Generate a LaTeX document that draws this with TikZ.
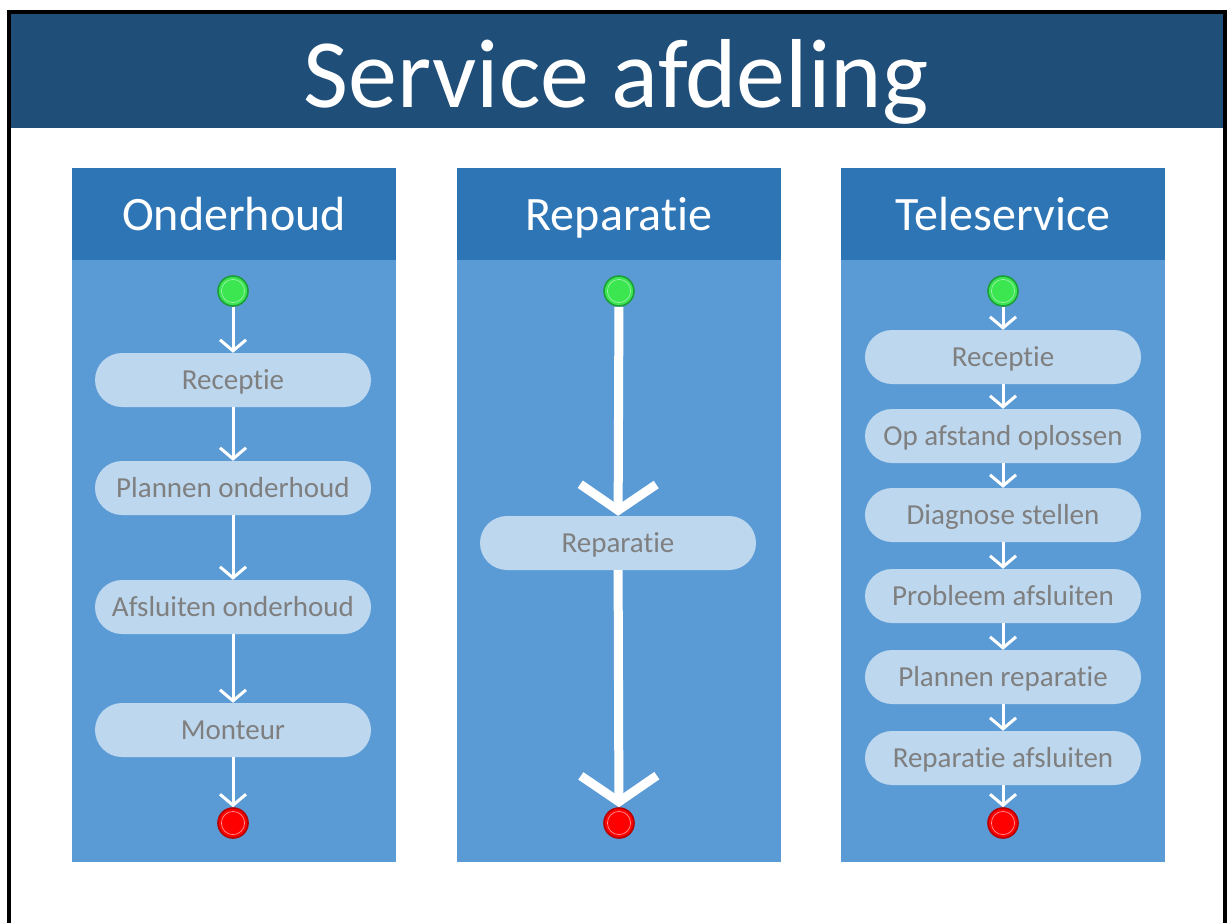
\documentclass[tikz,border=0pt]{standalone}
\usepackage{fontspec}
\setmainfont{Carlito}[Ligatures=NoCommon]
\usetikzlibrary{arrows.meta}
\definecolor{bannerblue}{HTML}{1F4E79}
\definecolor{lanehead}{HTML}{2E75B6}
\definecolor{lanebody}{HTML}{5B9BD5}
\definecolor{stepfill}{HTML}{BDD7EE}
\definecolor{steptext}{HTML}{7F7F7F}
\definecolor{startfill}{HTML}{3BE650}
\definecolor{startrim}{HTML}{1E9E3A}
\definecolor{startring}{HTML}{9AF0A6}
\definecolor{stopfill}{HTML}{FF0000}
\definecolor{stoprim}{HTML}{B80000}
\definecolor{stopring}{HTML}{FF9090}
\tikzset{
  lanebox/.style={fill=lanebody, draw=none},
  lanetitle/.style={fill=lanehead, draw=none},
  lanelabel/.style={text=white, font=\fontsize{48}{48}\selectfont, anchor=base},
  stepbox/.style={fill=stepfill, draw=none, rounded corners=27pt,
    minimum width=276pt, minimum height=54pt, inner sep=0pt,
    text height=24pt, text depth=6pt,
    text=steptext, font=\fontsize{29}{29}\selectfont},
  startdot/.style={circle, minimum size=30pt, inner sep=0pt, fill=startfill,
    draw=startrim, line width=1.6pt,
    path picture={\draw[startring, line width=0.7pt]
      (path picture bounding box.center) circle (11.6pt);}},
  stopdot/.style={circle, minimum size=30pt, inner sep=0pt, fill=stopfill,
    draw=stoprim, line width=1.6pt,
    path picture={\draw[stopring, line width=0.7pt]
      (path picture bounding box.center) circle (11.6pt);}},
  flow/.style={draw=white, line width=3pt,
    -{Straight Barb[length=11pt, width=26pt, line width=3pt]}},
  bigflow/.style={draw=white, line width=9pt,
    -{Straight Barb[length=26pt, width=76pt, line width=9pt]}},
}
\begin{document}
\begin{tikzpicture}[x=1pt, y=-1pt]
\useasboundingbox (0,0) rectangle (1228,922);
\fill[white] (0,0) rectangle (1228,922);

% banner and frame
\fill[bannerblue] (11,14) rectangle (1223,128);
\node[text=white, font=\fontsize{98}{98}\selectfont, anchor=base] (title) at (616,107) {Service afdeling};
\draw[black, line width=4pt] (9,940) -- (9,12) -- (1225,12) -- (1225,940);

% swim lanes
\foreach \lx in {72, 457, 841} {
  \fill[lanebox] (\lx,168) rectangle ++(324,694);
  \fill[lanetitle] (\lx,168) rectangle ++(324,92);
}
\node[lanelabel] (laneA) at (234,230) {Onderhoud};
\node[lanelabel] (laneB) at (619,230) {Reparatie};
\node[lanelabel] (laneC) at (1003,230) {Teleservice};

% Onderhoud
\node[startdot] (a0) at (233,291) {};
\node[stepbox] (a1) at (233,380) {Receptie};
\node[stepbox] (a2) at (233,488) {Plannen onderhoud};
\node[stepbox] (a3) at (233,607) {Afsluiten onderhoud};
\node[stepbox] (a4) at (233,730) {Monteur};
\node[stopdot] (a5) at (233,823) {};
\draw[flow] (a0) -- (a1);
\draw[flow] (a1) -- (a2);
\draw[flow] (a2) -- (a3);
\draw[flow] (a3) -- (a4);
\draw[flow] (a4) -- (a5);

% Reparatie
\node[startdot] (b0) at (619,291) {};
\node[stepbox] (b1) at (618,543) {Reparatie};
\node[stopdot] (b2) at (619,823) {};
\draw[bigflow] (b0) -- (b1);
\draw[bigflow] (b1) -- (b2);

% Teleservice
\node[startdot] (c0) at (1003,291) {};
\node[stepbox] (c1) at (1003,357) {Receptie};
\node[stepbox] (c2) at (1003,436) {Op afstand oplossen};
\node[stepbox] (c3) at (1003,515) {Diagnose stellen};
\node[stepbox] (c4) at (1003,596) {Probleem afsluiten};
\node[stepbox] (c5) at (1003,677) {Plannen reparatie};
\node[stepbox] (c6) at (1003,758) {Reparatie afsluiten};
\node[stopdot] (c7) at (1003,823) {};
\draw[flow] (c0) -- (c1);
\draw[flow] (c1) -- (c2);
\draw[flow] (c2) -- (c3);
\draw[flow] (c3) -- (c4);
\draw[flow] (c4) -- (c5);
\draw[flow] (c5) -- (c6);
\draw[flow] (c6) -- (c7);
\end{tikzpicture}
\end{document}
